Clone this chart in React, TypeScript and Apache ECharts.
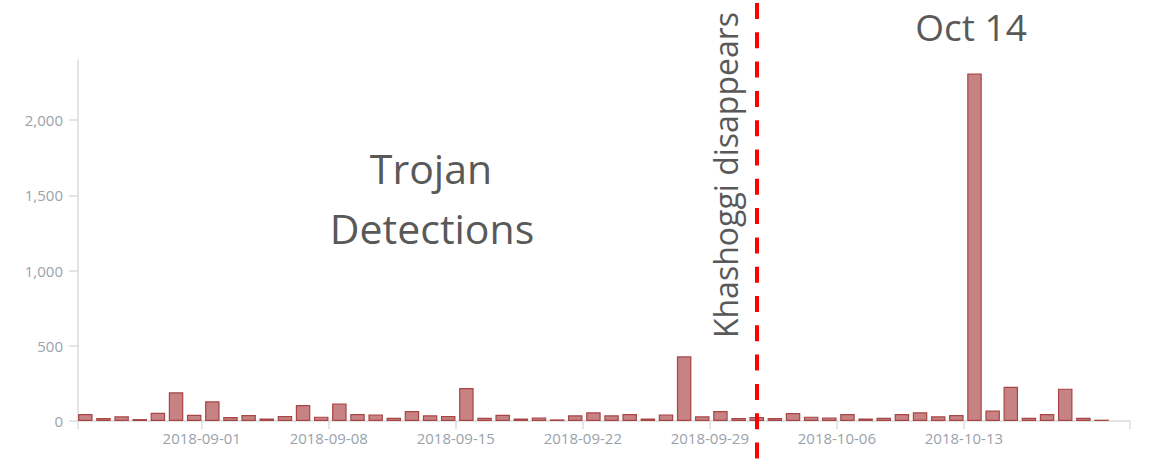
import React, { useEffect, useRef } from "react";
import * as echarts from "echarts";

// Daily detection counts (data dates, UTC)
const dates: string[] = [
  "2018-08-26", "2018-08-27", "2018-08-28", "2018-08-29", "2018-08-30", "2018-08-31", "2018-09-01",
  "2018-09-02", "2018-09-03", "2018-09-04", "2018-09-05", "2018-09-06", "2018-09-07", "2018-09-08",
  "2018-09-09", "2018-09-10", "2018-09-11", "2018-09-12", "2018-09-13", "2018-09-14", "2018-09-15",
  "2018-09-16", "2018-09-17", "2018-09-18", "2018-09-19", "2018-09-20", "2018-09-21", "2018-09-22",
  "2018-09-23", "2018-09-24", "2018-09-25", "2018-09-26", "2018-09-27", "2018-09-28", "2018-09-29",
  "2018-09-30", "2018-10-01", "2018-10-02", "2018-10-03", "2018-10-04", "2018-10-05", "2018-10-06",
  "2018-10-07", "2018-10-08", "2018-10-09", "2018-10-10", "2018-10-11", "2018-10-12", "2018-10-13",
  "2018-10-14", "2018-10-15", "2018-10-16", "2018-10-17", "2018-10-18", "2018-10-19", "2018-10-20",
  "2018-10-21",
];

const detections: number[] = [
  47, 20, 31, 13, 55, 191, 42,
  131, 27, 40, 16, 33, 106, 29,
  117, 47, 44, 22, 66, 38, 33,
  219, 22, 42, 16, 24, 11, 38,
  58, 38, 47, 16, 44, 430, 31,
  66, 20, 27, 20, 53, 29, 24,
  47, 16, 22, 47, 58, 31, 40,
  2310, 69, 228, 22, 47, 215, 22,
  9,
];

const tickLabelDates: string[] = [
  "2018-09-01", "2018-09-08", "2018-09-15", "2018-09-22", "2018-09-29", "2018-10-06", "2018-10-13",
];

const axisStart = "2018-08-25T04:20:00Z";
const axisEnd = "2018-10-22T03:40:00Z";

const HOUR = 3600 * 1000;
// reporting offset of the source data (timestamps shown shifted by 10h)
const SHIFT = -10 * HOUR;

export default function App() {
  const ref = useRef<HTMLDivElement>(null);

  useEffect(() => {
    if (!ref.current) return;
    const chart = echarts.init(ref.current, undefined, { renderer: "svg" });
    const seriesData = dates.map((d, i) => [Date.parse(d) + SHIFT, detections[i]]);
    const minT = Date.parse(axisStart);
    const maxT = Date.parse(axisEnd);
    const labelVals = tickLabelDates.map((d) => Date.parse(d));
    const pad = (n: number) => (n < 10 ? "0" + n : "" + n);
    const annoFont = (size: number) => `${size}px "Open Sans"`;

    chart.setOption({
      animation: false,
      grid: { left: 78, right: 22, top: 60, bottom: 40 },
      xAxis: {
        type: "value",
        min: minT,
        max: maxT,
        axisLine: { show: true, lineStyle: { color: "#dcdcdc", width: 1.5 } },
        axisTick: {
          show: true,
          length: 8,
          customValues: [minT, ...labelVals, maxT],
          lineStyle: { color: "#dcdcdc", width: 1.5 },
        },
        splitLine: { show: false },
        axisLabel: {
          customValues: labelVals,
          color: "#9aa2ab",
          fontFamily: "Open Sans",
          fontSize: 15,
          margin: 9,
          formatter: (v: number) => {
            const d = new Date(v);
            return d.getUTCFullYear() + "-" + pad(d.getUTCMonth() + 1) + "-" + pad(d.getUTCDate());
          },
        },
      },
      yAxis: {
        type: "value",
        min: 0,
        max: 2400,
        interval: 500,
        axisLine: { show: true, lineStyle: { color: "#dcdcdc", width: 1.5 } },
        axisTick: { show: true, length: 9, lineStyle: { color: "#dcdcdc", width: 1.5 } },
        splitLine: { show: false },
        axisLabel: {
          color: "#9aa2ab",
          fontFamily: "Open Sans",
          fontSize: 15,
          margin: 15,
          showMaxLabel: false,
        },
      },
      series: [
        {
          type: "bar",
          data: seriesData,
          barWidth: 14.5,
          itemStyle: {
            color: "#c78383",
            borderColor: "#a84545",
            borderWidth: 1.2,
          },
        },
      ],
      graphic: [
        {
          type: "line",
          z: 100,
          shape: { x1: 757, y1: 3, x2: 757, y2: 461 },
          style: { stroke: "#ff0000", lineWidth: 4, lineDash: [16, 13.3] },
        },
        {
          type: "text",
          z: 100,
          x: 431,
          y: 168,
          style: {
            text: "Trojan",
            font: annoFont(41),
            fill: "#595959",
            textAlign: "center",
            textVerticalAlign: "middle",
          },
        },
        {
          type: "text",
          z: 100,
          x: 432,
          y: 228,
          style: {
            text: "Detections",
            font: annoFont(41),
            fill: "#595959",
            textAlign: "center",
            textVerticalAlign: "middle",
          },
        },
        {
          type: "text",
          z: 100,
          x: 971,
          y: 26,
          style: {
            text: "Oct 14",
            font: annoFont(37),
            fill: "#595959",
            textAlign: "center",
            textVerticalAlign: "middle",
          },
        },
        {
          type: "text",
          z: 100,
          x: 725.5,
          y: 175,
          rotation: Math.PI / 2,
          style: {
            text: "Khashoggi disappears",
            font: annoFont(32),
            fill: "#595959",
            textAlign: "center",
            textVerticalAlign: "middle",
          },
        },
      ],
    });
    return () => chart.dispose();
  }, []);

  return (
    <div
      ref={ref}
      style={{ position: "fixed", left: 0, top: 0, width: 1152, height: 461, background: "#fff" }}
    />
  );
}
